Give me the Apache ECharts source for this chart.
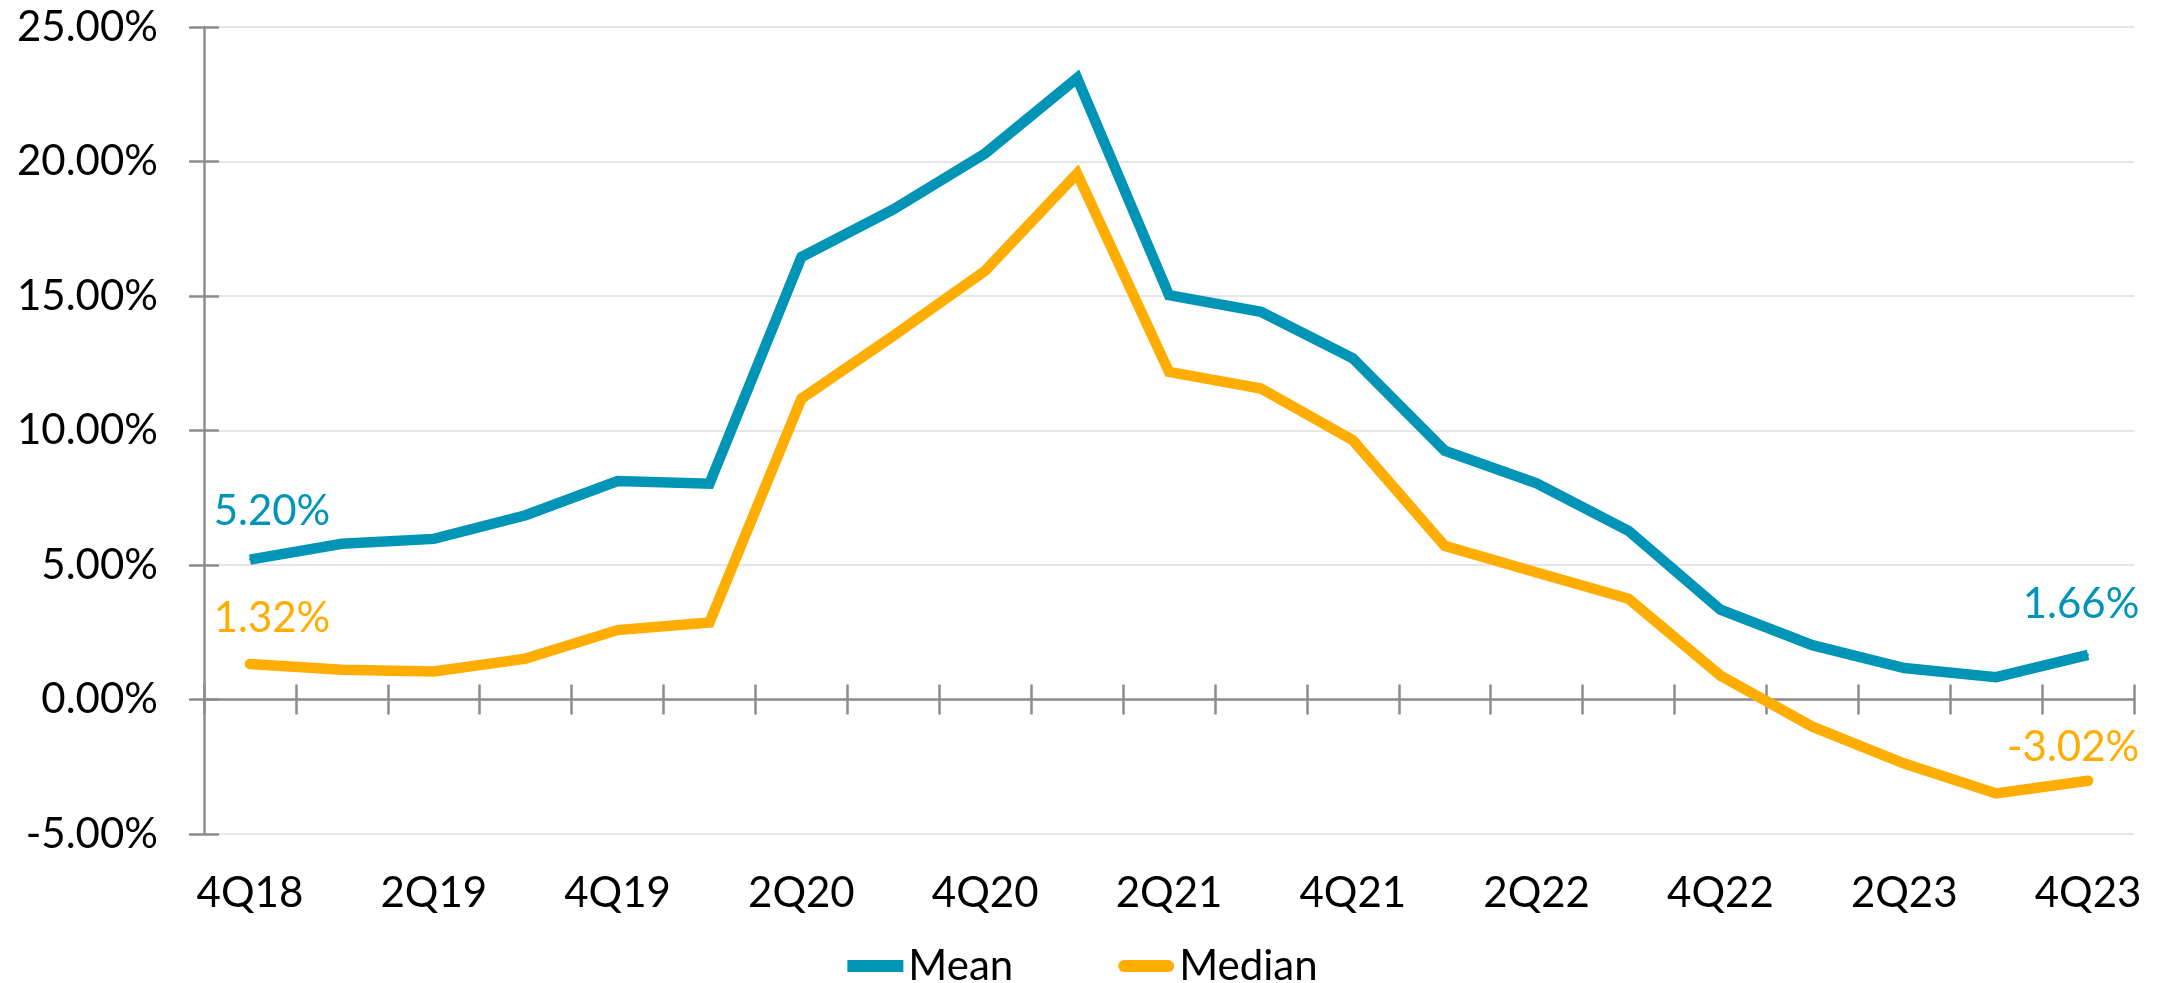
<!DOCTYPE html>
<html>
<head>
<meta charset="utf-8">
<title>Mean and Median</title>
<script src="https://cdn.jsdelivr.net/npm/echarts@6/dist/echarts.min.js"></script>
<style>
  html, body { margin: 0; padding: 0; background: #fff; }
  #chart { width: 2165px; height: 983px; }
</style>
</head>
<body>
<div id="chart"></div>
<script>
const quarters = ['4Q18', '1Q19', '2Q19', '3Q19', '4Q19', '1Q20', '2Q20', '3Q20', '4Q20', '1Q21', '2Q21',
  '3Q21', '4Q21', '1Q22', '2Q22', '3Q22', '4Q22', '1Q23', '2Q23', '3Q23', '4Q23']
const meanValues = [5.20, 5.79, 5.97, 6.85, 8.12, 8.02, 16.45, 18.22, 20.30, 23.10, 15.03,
  14.41, 12.68, 9.25, 8.04, 6.27, 3.34, 2.02, 1.17, 0.83, 1.66]
const medianValues = [1.32, 1.11, 1.04, 1.52, 2.58, 2.86, 11.18, 13.52, 15.94, 19.55, 12.18,
  11.56, 9.64, 5.71, 4.72, 3.75, 0.89, -1.01, -2.38, -3.49, -3.02]
const yTicks = [-5, 0, 5, 10, 15, 20, 25]

const MEAN_COLOR = '#0094b6'
const MEDIAN_COLOR = '#ffad00'
const AXIS_COLOR = '#8c8c8c'
const GRID_COLOR = '#e6e6e6'
const FONT = 'Lato'

const chart = echarts.init(document.getElementById('chart'))

// only the first and last point of each line carry a value label
const withEndLabels = (values, color, firstOffset, lastOffset) => values.map((v, i) => {
  if (i !== 0 && i !== values.length - 1) return v
  return {
    value: v,
    label: {
      show: true,
      position: 'inside',
      offset: i === 0 ? firstOffset : lastOffset,
      formatter: p => p.value.toFixed(2) + '%',
      color: color,
      fontFamily: FONT,
      fontSize: 42
    }
  }
})

const tickStyle = { color: AXIS_COLOR, width: 2.5 }
const baseX = { type: 'category', data: quarters, boundaryGap: true, position: 'bottom' }
const baseY = {
  type: 'value',
  position: 'left',
  min: yTicks[0],
  max: yTicks[yTicks.length - 1],
  interval: yTicks[1] - yTicks[0]
}

chart.setOption({
  animation: false,
  grid: { left: 204, right: 31, top: 27, bottom: 149 },
  legend: {
    left: 'center',
    top: 945,
    padding: 0,
    itemWidth: 56,
    itemHeight: 12,
    itemGap: 105,
    textStyle: { fontFamily: FONT, fontSize: 42, color: '#000' },
    data: [
      { name: 'Mean', icon: 'rect' },
      { name: 'Median', icon: 'path://M6,0H50A6,6,0,0,1,50,12H6A6,6,0,0,1,6,0Z' }
    ]
  },
  xAxis: [
    // labels sit at the bottom of the plot
    {
      ...baseX,
      axisLine: { show: false, onZero: false },
      axisTick: { show: false },
      axisLabel: { interval: 1, margin: 38, fontFamily: FONT, fontSize: 42, color: '#000' }
    },
    // line at zero with ticks crossing it
    {
      ...baseX,
      axisLine: { show: true, onZero: true, lineStyle: tickStyle },
      axisTick: { show: true, interval: 0, length: 15, lineStyle: tickStyle },
      axisLabel: { show: false }
    },
    {
      ...baseX,
      axisLine: { show: false, onZero: true },
      axisTick: { show: true, inside: true, interval: 0, length: 15, lineStyle: tickStyle },
      axisLabel: { show: false }
    }
  ],
  yAxis: [
    {
      ...baseY,
      axisLine: { show: true, lineStyle: tickStyle },
      axisTick: { show: true, length: 15, lineStyle: tickStyle },
      axisLabel: {
        margin: 46,
        fontFamily: FONT,
        fontSize: 42,
        color: '#000',
        formatter: v => v.toFixed(2) + '%'
      },
      splitLine: { show: true, lineStyle: { color: GRID_COLOR, width: 2 } }
    },
    {
      ...baseY,
      axisLine: { show: false },
      axisTick: { show: true, inside: true, length: 15, lineStyle: tickStyle },
      axisLabel: { show: false },
      splitLine: { show: false }
    }
  ],
  series: [
    {
      name: 'Mean',
      type: 'line',
      data: withEndLabels(meanValues, MEAN_COLOR, [22, -48], [-7, -50]),
      symbol: 'circle',
      symbolSize: 2,
      itemStyle: { color: MEAN_COLOR },
      lineStyle: { color: MEAN_COLOR, width: 10.5, cap: 'butt', join: 'miter' }
    },
    {
      name: 'Median',
      type: 'line',
      data: withEndLabels(medianValues, MEDIAN_COLOR, [22, -46], [-15, -33]),
      symbol: 'circle',
      symbolSize: 2,
      itemStyle: { color: MEDIAN_COLOR },
      lineStyle: { color: MEDIAN_COLOR, width: 10.5, cap: 'round', join: 'miter' }
    }
  ]
})
</script>
</body>
</html>
